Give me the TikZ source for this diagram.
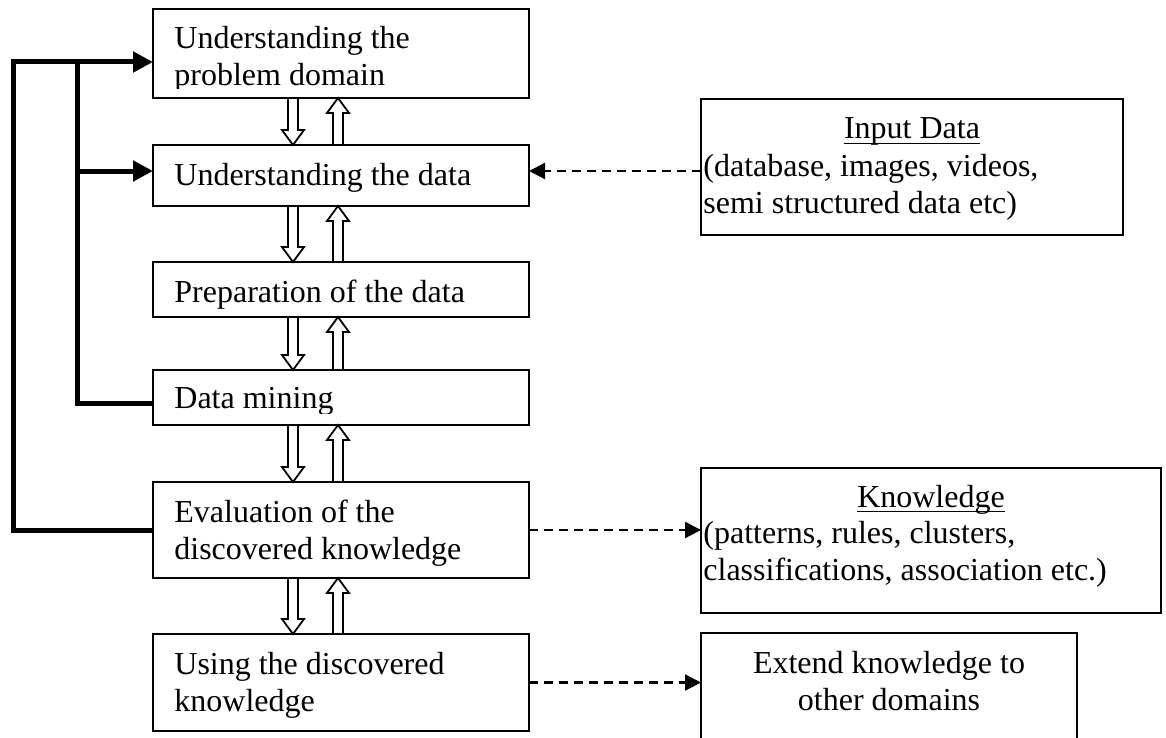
\documentclass[tikz,border=0pt]{standalone}
\usepackage{fontspec}
\setmainfont{Liberation Serif}
\usetikzlibrary{arrows.meta,calc,fit}
\newcommand\blkdown[3]{%
  \draw[blk] let \p1=(#1,0 |- #2.south), \p2=(#1,0 |- #3.north) in
    (\x1-2.5pt,\y1) -- (\x1-2.5pt,\y2+7.5pt) -- (\x1-5.5pt,\y2+7.5pt) -- (\x1,\y2)
    -- (\x1+5.5pt,\y2+7.5pt) -- (\x1+2.5pt,\y2+7.5pt) -- (\x1+2.5pt,\y1) -- cycle;}
\newcommand\blkup[3]{%
  \draw[blk] let \p1=(#1,0 |- #2.south), \p2=(#1,0 |- #3.north) in
    (\x1-2.5pt,\y2) -- (\x1-2.5pt,\y1-7.5pt) -- (\x1-5.5pt,\y1-7.5pt) -- (\x1,\y1)
    -- (\x1+5.5pt,\y1-7.5pt) -- (\x1+2.5pt,\y1-7.5pt) -- (\x1+2.5pt,\y2) -- cycle;}
\begin{document}
\begin{tikzpicture}[x=0.5pt,y=-0.5pt,
  box/.style={draw, line width=1pt, inner sep=0pt, outer sep=0pt},
  rbox/.style={draw, line width=1.2pt, inner sep=0pt, outer sep=0pt},
  txt/.style={inner sep=0pt, anchor=base west, font=\fontsize{16}{18.5}\selectfont},
  ctxt/.style={inner sep=0pt, anchor=base, font=\fontsize{16}{18.5}\selectfont},
  uline/.style={line width=0.75pt},
  fb/.style={line width=2.5pt, line join=miter},
  fbarrow/.style={fb, -{Triangle[length=10pt,width=10pt]}},
  dsh/.style={line width=1.1pt, dash pattern=on 4.5pt off 3pt, -{Triangle[length=8pt,width=8pt]}},
  blk/.style={draw, fill=white, line width=0.9pt, line join=miter}]
\clip (0,0) rectangle (1166,738);
\fill[white] (0,0) rectangle (1166,738);

% left column boxes
\node[box, fit={(153,9) (529,98)}] (b1) {};
\node[box, fit={(153,145) (529,206)}] (b2) {};
\node[box, fit={(153,262) (529,317)}] (b3) {};
\node[box, fit={(153,370) (529,425)}] (b4) {};
\node[box, fit={(153,482) (529,578)}] (b5) {};
\node[box, fit={(153,634) (529,731)}] (b6) {};
% right boxes
\node[rbox, fit={(701,99) (1123,235)}] (inp) {};
\node[rbox, fit={(701,468) (1161,613)}] (kn) {};
\node[rbox, fit={(701,633) (1077,760)}] (ext) {};

% texts
\begin{scope}
  \clip (153,9) rectangle (529,89);
  \node[txt] (t1a) at (174,49) {Understanding the};
  \node[txt] (t1b) at (174,86) {problem domain};
\end{scope}
\node[txt] (t2) at (174,185) {Understanding the data};
\node[txt] (t3) at (174,302) {Preparation of the data};
\begin{scope}
  \clip (153,370) rectangle (529,413);
  \node[txt] (t4) at (174,408) {Data mining};
\end{scope}
\node[txt] (t5a) at (174,522) {Evaluation of the};
\node[txt] (t5b) at (174,559) {discovered knowledge};
\node[txt] (t6a) at (174,674) {Using the discovered};
\node[txt] (t6b) at (174,711) {knowledge};

\node[ctxt] (i1) at (912,139) {Input Data};
\draw[uline] ([yshift=-2.2pt]i1.base west) -- ([yshift=-2.2pt]i1.base east);
\node[txt] (i2) at (703,176) {(database, images, videos,};
\node[txt] (i3) at (703,213) {semi structured data etc)};

\node[ctxt] (k1) at (931,507) {Knowledge};
\draw[uline] ([yshift=-2.2pt]k1.base west) -- ([yshift=-2.2pt]k1.base east);
\node[txt] (k2) at (703,543) {(patterns, rules, clusters,};
\node[txt] (k3) at (703,580) {classifications, association etc.)};

\node[ctxt] (x1) at (889,673) {Extend knowledge to};
\node[ctxt] (x2) at (889,710) {other domains};

% hollow block arrows
\blkdown{293}{b1}{b2} \blkup{338}{b1}{b2}
\blkdown{293}{b2}{b3} \blkup{338}{b2}{b3}
\blkdown{293}{b3}{b4} \blkup{338}{b3}{b4}
\blkdown{293}{b4}{b5} \blkup{338}{b4}{b5}
\blkdown{293}{b5}{b6} \blkup{338}{b5}{b6}

% feedback connectors
\coordinate (e1) at (153,62);
\coordinate (e2) at (153,171);
\coordinate (e4) at (153,403);
\draw[fbarrow] (b5.west) -| (13,62) -- (e1);
\draw[fb] (e4) -| (77,62);
\draw[fbarrow] (77,171) -- (e2);

% dashed connectors
\draw[dsh] (inp.west |- e2) -- (b2.east |- e2);
\draw[dsh] (b5.east) -- (kn.west |- b5.east);
\draw[dsh] (b6.east) -- (ext.west |- b6.east);
\end{tikzpicture}
\end{document}
